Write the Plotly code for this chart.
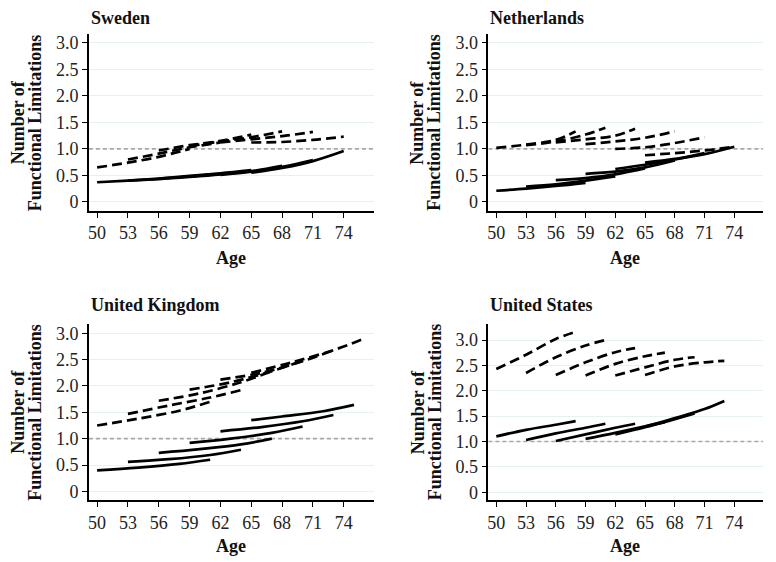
import plotly.graph_objects as go
from plotly.subplots import make_subplots

# cohort ages and predicted number of functional limitations
# solid = one group, dashed = the other group

se_ages = [[50, 53, 56, 59], [53, 56, 59, 62], [56, 59, 62, 65],
           [59, 62, 65, 68], [62, 65, 68, 71], [65, 68, 71, 74]]
se_solid = [[0.37, 0.40, 0.43, 0.47], [0.40, 0.44, 0.48, 0.53], [0.44, 0.49, 0.54, 0.60],
            [0.47, 0.52, 0.58, 0.68], [0.51, 0.57, 0.66, 0.79], [0.55, 0.64, 0.77, 0.96]]
se_dashed = [[0.65, 0.74, 0.85, 1.00], [0.80, 0.91, 1.03, 1.12], [0.97, 1.07, 1.15, 1.27],
             [1.05, 1.14, 1.22, 1.33], [1.12, 1.18, 1.24, 1.32], [1.12, 1.13, 1.17, 1.23]]

nl_solid_ages = [[50, 53, 56, 59], [53, 56, 59, 62], [56, 59, 62, 65],
                 [59, 62, 65, 68], [62, 65, 68, 71], [65, 68, 71, 74]]
nl_solid = [[0.21, 0.25, 0.30, 0.36], [0.29, 0.33, 0.40, 0.48], [0.41, 0.45, 0.52, 0.63],
            [0.53, 0.57, 0.65, 0.78], [0.62, 0.70, 0.80, 0.92], [0.74, 0.81, 0.90, 1.04]]
nl_dashed_ages = [[50, 53, 56, 58], [53, 56, 59, 61], [56, 59, 62, 64],
                  [59, 62, 65, 68], [62, 65, 68, 71], [65, 68, 71, 74]]
nl_dashed = [[1.02, 1.08, 1.17, 1.33], [1.07, 1.14, 1.27, 1.40], [1.12, 1.18, 1.25, 1.38],
             [1.09, 1.14, 1.21, 1.33], [1.00, 1.03, 1.11, 1.22], [0.88, 0.92, 0.97, 1.04]]

uk_solid_ages = [[50, 54, 58, 61], [53, 57, 61, 64], [56, 60, 64, 67],
                 [59, 63, 67, 70], [62, 66, 70, 73], [65, 68, 72, 75]]
uk_solid = [[0.40, 0.45, 0.52, 0.60], [0.56, 0.61, 0.69, 0.79], [0.73, 0.80, 0.89, 1.00],
            [0.92, 1.00, 1.11, 1.23], [1.14, 1.22, 1.33, 1.45], [1.35, 1.42, 1.52, 1.64]]
uk_dashed_ages = [[50, 54, 58, 61], [53, 57, 61, 64], [56, 60, 64, 67],
                  [59, 63, 67, 70], [62, 66, 70, 73], [65, 69, 73, 76]]
uk_dashed = [[1.25, 1.38, 1.53, 1.70], [1.47, 1.63, 1.78, 1.92], [1.72, 1.86, 2.07, 2.28],
             [1.93, 2.07, 2.28, 2.48], [2.12, 2.25, 2.47, 2.68], [2.25, 2.45, 2.68, 2.90]]

us_ages = [[50, 53, 56, 58], [53, 56, 59, 61], [56, 59, 62, 64],
           [59, 62, 65, 67], [62, 65, 68, 70], [65, 68, 71, 73]]
us_solid = [[1.10, 1.23, 1.33, 1.40], [1.03, 1.16, 1.27, 1.35], [1.01, 1.14, 1.27, 1.35],
            [1.05, 1.17, 1.30, 1.38], [1.14, 1.28, 1.44, 1.55], [1.29, 1.46, 1.64, 1.80]]
us_dashed = [[2.43, 2.71, 3.02, 3.16], [2.35, 2.66, 2.89, 3.00], [2.31, 2.56, 2.76, 2.84],
             [2.30, 2.53, 2.68, 2.75], [2.30, 2.46, 2.61, 2.66], [2.31, 2.48, 2.56, 2.59]]

countries = ['Sweden', 'Netherlands', 'United Kingdom', 'United States']
x_ticks = [50, 53, 56, 59, 62, 65, 68, 71, 74]
y_ticks = [0, 0.5, 1.0, 1.5, 2.0, 2.5, 3.0]
y_labels = ['0', '0.5', '1.0', '1.5', '2.0', '2.5', '3.0']

# the page body has an 8px margin, so the figure is drawn 8px in from the corner
OFF = 8
W, H = 776 - OFF, 562 - OFF
FONT = 'Liberation Serif'


def px(x):
    return (x - OFF) / W


def py(y):
    return 1 - (y - OFF) / H


panels = [
    (1, 1, se_ages, se_solid, se_ages, se_dashed),
    (1, 2, nl_solid_ages, nl_solid, nl_dashed_ages, nl_dashed),
    (2, 1, uk_solid_ages, uk_solid, uk_dashed_ages, uk_dashed),
    (2, 2, us_ages, us_solid, us_ages, us_dashed),
]

fig = make_subplots(rows=2, cols=2)

for row, col, s_ages, s_vals, d_ages, d_vals in panels:
    # reference line at 1.0
    fig.add_trace(go.Scatter(
        x=[49.2, 76.9], y=[1.0, 1.0], mode='lines',
        line=dict(color='#a8a8a8', width=1.6, dash='4px,3px'),
        showlegend=False, hoverinfo='skip'), row=row, col=col)
    for a, v in zip(d_ages, d_vals):
        fig.add_trace(go.Scatter(
            x=a, y=v, mode='lines', line_shape='spline',
            line=dict(color='black', width=2.7, dash='10px,5px'),
            showlegend=False), row=row, col=col)
    for a, v in zip(s_ages, s_vals):
        fig.add_trace(go.Scatter(
            x=a, y=v, mode='lines', line_shape='spline',
            line=dict(color='black', width=2.7),
            showlegend=False), row=row, col=col)

x_domains = {1: [px(88), px(373)], 2: [px(488), px(763)]}
y_domains = {1: [py(211), py(33)], 2: [py(502), py(325)]}
y_ranges = {(1, 1): [-0.17, 3.17], (1, 2): [-0.17, 3.17],
            (2, 1): [-0.17, 3.17], (2, 2): [-0.16, 3.31]}

for (row, col), yr in y_ranges.items():
    fig.update_xaxes(domain=x_domains[col], range=[49.2, 76.9],
                     tickvals=x_ticks, showline=True, linecolor='black', linewidth=1.5,
                     ticks='outside', ticklen=5, tickcolor='black', showgrid=False,
                     zeroline=False, tickfont=dict(family=FONT, size=18, color='#222'),
                     row=row, col=col)
    fig.update_yaxes(domain=y_domains[row], range=yr,
                     tickvals=y_ticks, ticktext=y_labels, showline=True,
                     linecolor='black', linewidth=1.5, ticks='outside', ticklen=5,
                     tickcolor='black', showgrid=True, gridcolor='#e6f1f1', gridwidth=1,
                     zeroline=False, tickfont=dict(family=FONT, size=18, color='#222'),
                     row=row, col=col)

title_font = dict(family=FONT, size=18, color='#111')
annotations = []
title_pos = [(88, 17), (488, 17), (88, 306), (488, 306)]
for name, (x, y) in zip(countries, title_pos):
    annotations.append(dict(text='<b>' + name + '</b>', x=px(x), y=py(y),
                            xref='paper', yref='paper', xanchor='left', yanchor='middle',
                            showarrow=False, font=title_font))
# y-axis titles, two lines placed separately
for x0 in [0, 400]:
    for y in [122, 413]:
        for dx, line in [(17, 'Number of'), (34, 'Functional Limitations')]:
            annotations.append(dict(text='<b>' + line + '</b>',
                                    x=px(x0 + dx), y=py(y), xref='paper', yref='paper',
                                    xanchor='center', yanchor='middle', textangle=-90,
                                    showarrow=False, font=title_font))
for x in [230, 625]:
    for y in [258, 548]:
        annotations.append(dict(text='<b>Age</b>', x=px(x), y=py(y),
                                xref='paper', yref='paper', xanchor='center',
                                yanchor='middle', showarrow=False, font=title_font))

fig.update_layout(
    width=W, height=H,
    margin=dict(l=0, r=0, t=0, b=0),
    plot_bgcolor='white', paper_bgcolor='white',
    annotations=annotations,
    showlegend=False,
)

fig.write_html("out.html")
